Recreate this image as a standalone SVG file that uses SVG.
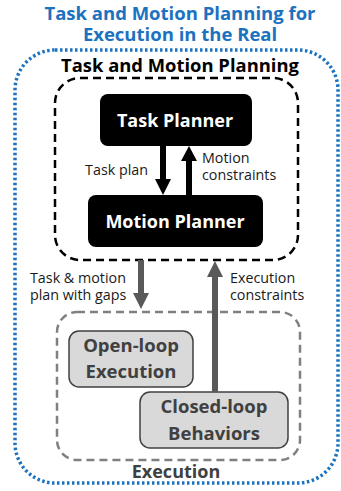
<svg xmlns="http://www.w3.org/2000/svg" width="341" height="491" viewBox="0 0 341 491">
<defs>
<style>
text{font-family:"Open Sans","Noto Sans","Liberation Sans",sans-serif;}
.title{font-size:18.5px;font-weight:bold;fill:#1b72c0;text-anchor:middle;}
.hdr{font-size:18.4px;font-weight:bold;fill:#000;text-anchor:middle;}
.lbl{font-size:14.3px;fill:#1a1a1a;}
.bw{font-size:18px;font-weight:bold;fill:#fff;text-anchor:middle;}
.gt{font-size:18.5px;font-weight:bold;fill:#404040;text-anchor:middle;}
.blk{fill:#000;}
.gbox{fill:#d9d9d9;stroke:#404040;stroke-width:1.5;}
</style>
</defs>
<rect width="341" height="491" fill="#fff"/>
<text class="title" x="180" y="19.5">Task and Motion Planning for</text>
<text class="title" x="180" y="40.5">Execution in the Real</text>
<rect x="15" y="50" width="323" height="433" rx="40" fill="none" stroke="#1b72c0" stroke-width="3.5" stroke-dasharray="2.5 2.5"/>
<text class="hdr" x="180" y="72">Task and Motion Planning</text>
<rect x="55" y="78" width="243" height="182" rx="25" fill="none" stroke="#000" stroke-width="2.5" stroke-dasharray="8 5"/>
<g id="task-planner">
<rect class="blk" x="100" y="94" width="152" height="52" rx="8"/>
<text class="bw" x="175" y="127">Task Planner</text>
</g>
<g id="motion-planner">
<rect class="blk" x="88" y="195" width="175" height="52" rx="8"/>
<text class="bw" x="175" y="228">Motion Planner</text>
</g>
<rect x="57" y="312" width="243" height="148" rx="20" fill="none" stroke="#808080" stroke-width="2.5" stroke-dasharray="8 5"/>
<text class="gt" x="176" y="478" style="font-size:18px">Execution</text>
<g id="open-loop">
<rect class="gbox" x="69" y="331" width="124" height="56" rx="10"/>
<text class="gt" x="131" y="352">Open-loop</text>
<text class="gt" x="131" y="378">Execution</text>
</g>
<g id="closed-loop">
<rect class="gbox" x="140" y="392" width="148" height="56" rx="10"/>
<text class="gt" x="214" y="413">Closed-loop</text>
<text class="gt" x="214" y="440">Behaviors</text>
</g>
<g id="connectors">
<path d="M163 146 V180" stroke="#000" stroke-width="6"/>
<path d="M155 179 H171 L163 195 Z" fill="#000"/>
<path d="M189 195 V160" stroke="#000" stroke-width="6"/>
<path d="M181 161 H197 L189 146 Z" fill="#000"/>
<path d="M141 260 V294" stroke="#595959" stroke-width="6"/>
<path d="M133 293 H149 L141 309 Z" fill="#595959"/>
<path d="M215 392 V276" stroke="#595959" stroke-width="6"/>
<path d="M207 277 H223 L215 261 Z" fill="#595959"/>
<text class="lbl" x="148" y="175" text-anchor="end">Task plan</text>
<text class="lbl" x="202" y="163">Motion</text>
<text class="lbl" x="202" y="180">constraints</text>
<text class="lbl" x="30" y="283">Task &amp; motion</text>
<text class="lbl" x="30" y="300">plan with gaps</text>
<text class="lbl" x="230" y="283">Execution</text>
<text class="lbl" x="230" y="300">constraints</text>
</g>
</svg>
